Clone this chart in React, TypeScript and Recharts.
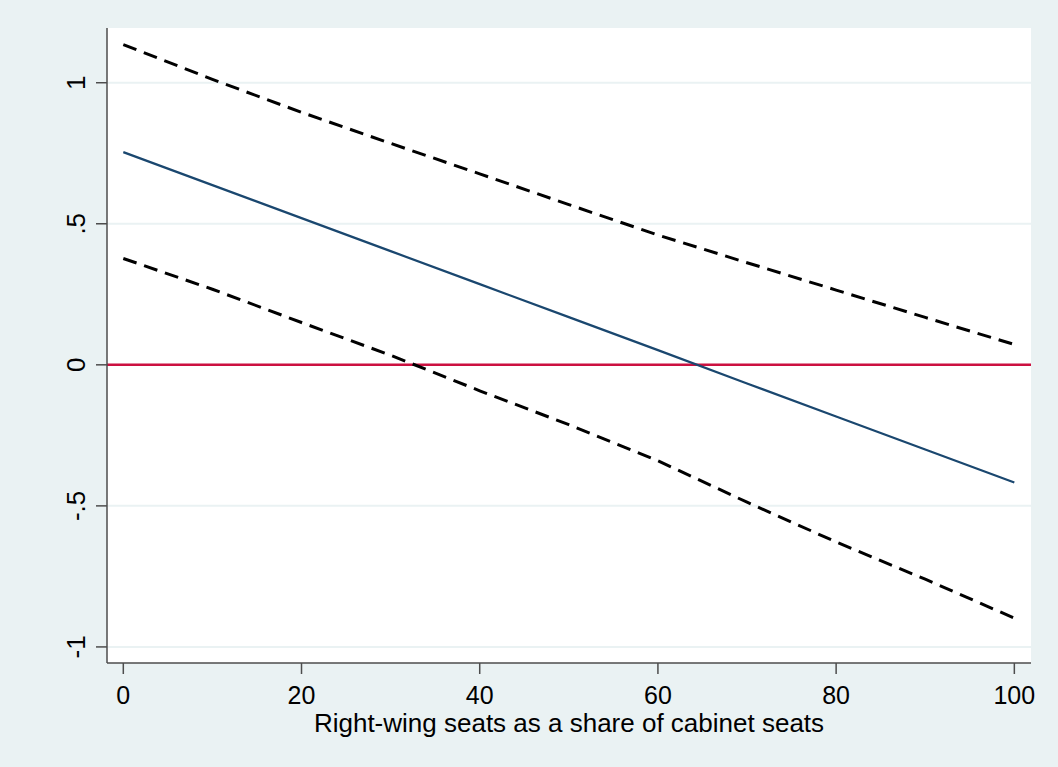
import {
  LineChart,
  Line,
  XAxis,
  YAxis,
  CartesianGrid,
  ReferenceLine,
  Label,
} from "recharts";

// values (x = right-wing share of cabinet seats)
const shares = [0, 10, 20, 30, 40, 50, 60, 70, 80, 90, 100];
const upperBound = [1.135, 1.012, 0.895, 0.785, 0.677, 0.568, 0.46, 0.362, 0.265, 0.168, 0.072];
const estimate = [0.754, 0.637, 0.52, 0.403, 0.286, 0.169, 0.052, -0.066, -0.183, -0.3, -0.417];
const lowerBound = [0.377, 0.268, 0.15, 0.034, -0.092, -0.212, -0.34, -0.487, -0.628, -0.76, -0.898];

const xTicks = [0, 20, 40, 60, 80, 100];
const yTicks = [-1, -0.5, 0, 0.5, 1];

const toRows = (vals: number[]) => shares.map((x, i) => ({ x, y: vals[i] }));

const FONT = '"Liberation Sans", Arial, sans-serif';
const BG = "#EAF2F3";
const AXIS = "#4d4d4d";

const fmtY = (v: number) => (v === 0 ? "0" : String(v).replace("0.", "."));

const YTick = (props: any) => {
  const { x, y, payload } = props;
  return (
    <text
      x={x}
      y={y}
      transform={`rotate(-90, ${x}, ${y})`}
      textAnchor="middle"
      fontSize={26}
      fontFamily={FONT}
      fill="#000"
    >
      {fmtY(payload.value)}
    </text>
  );
};

export default function App() {
  return (
    <div style={{ position: "absolute", left: 0, top: 0, width: 1058, height: 767, background: BG }}>
      <LineChart
        width={1058}
        height={767}
        margin={{ top: 28, right: 27, bottom: 0, left: 0 }}
      >
        <CartesianGrid
          vertical={false}
          horizontal
          fill="#ffffff"
          stroke={BG}
          strokeWidth={2}
          horizontalValues={yTicks}
        />
        <XAxis
          dataKey="x"
          type="number"
          domain={[-1.83, 101.87]}
          ticks={xTicks}
          allowDataOverflow
          height={104}
          stroke={AXIS}
          strokeWidth={1.5}
          tickSize={11}
          tickMargin={12}
          tick={{ fontSize: 25, fontFamily: FONT, fill: "#000" }}
        >
          <Label
            value="Right-wing seats as a share of cabinet seats"
            position="insideBottom"
            offset={35}
            fontSize={26}
            fontFamily={FONT}
            fill="#000"
          />
        </XAxis>
        <YAxis
          type="number"
          domain={[-1.057, 1.194]}
          ticks={yTicks}
          allowDataOverflow
          width={107}
          stroke={AXIS}
          strokeWidth={1.5}
          tickSize={11}
          tickMargin={11}
          tick={<YTick />}
        />
        <ReferenceLine y={0} stroke="#CC1040" strokeWidth={2.5} />
        <Line
          data={toRows(upperBound)}
          dataKey="y"
          type="linear"
          stroke="#000"
          strokeWidth={3}
          strokeDasharray="14 8"
          dot={false}
          isAnimationActive={false}
        />
        <Line
          data={toRows(estimate)}
          dataKey="y"
          type="linear"
          stroke="#1A476F"
          strokeWidth={2.2}
          dot={false}
          isAnimationActive={false}
        />
        <Line
          data={toRows(lowerBound)}
          dataKey="y"
          type="linear"
          stroke="#000"
          strokeWidth={3}
          strokeDasharray="14 8"
          dot={false}
          isAnimationActive={false}
        />
      </LineChart>
    </div>
  );
}
